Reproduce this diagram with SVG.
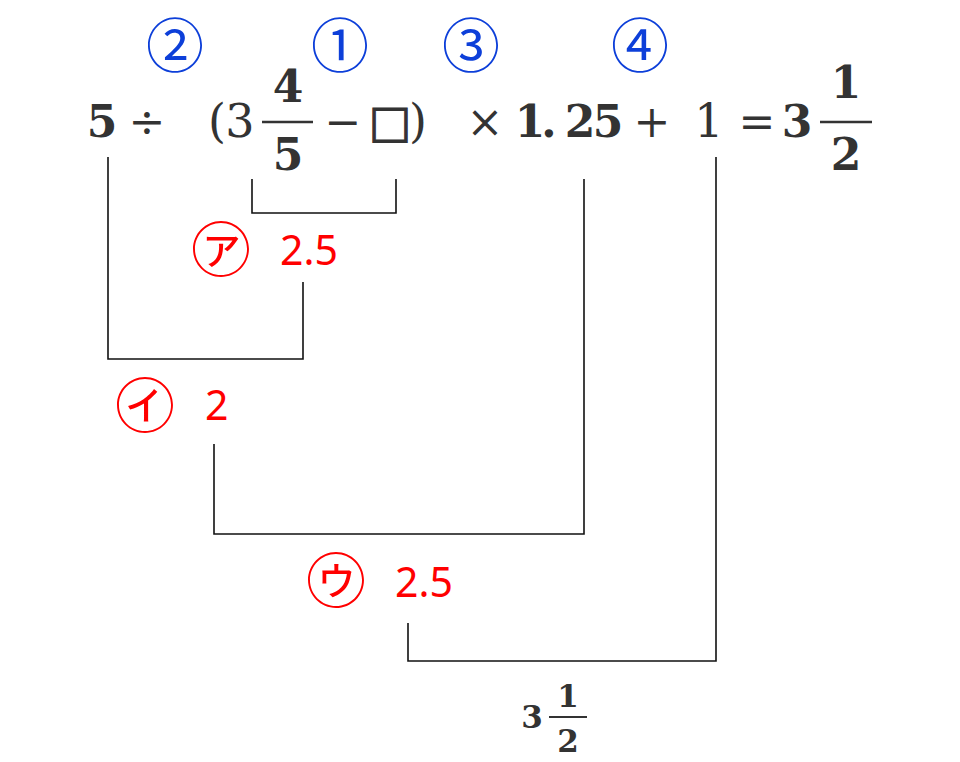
<svg xmlns="http://www.w3.org/2000/svg" width="960" height="762" viewBox="0 0 960 762">
<style>
.m{font-family:"DejaVu Serif","Liberation Serif",serif;font-size:44px;fill:#333;text-anchor:middle}
.b{font-weight:bold}
.s{font-size:31px}
.bar{stroke:#333;stroke-width:2.5}
.cb{font-family:"Noto Sans CJK JP",sans-serif;font-size:58px;fill:#0d3fd9;text-anchor:middle}
.cr{font-family:"Noto Sans CJK JP",sans-serif;font-size:60px;fill:#f00;text-anchor:middle}
.rv{font-family:"Noto Sans","Liberation Sans",sans-serif;font-size:41px;fill:#f00}
.ln{fill:none;stroke:#111;stroke-width:1.6}
</style>
<rect width="960" height="762" fill="#fff"/>
<g id="expression">
<text class="m b" x="102" y="137">5</text>
<text class="m" x="147" y="137">÷</text>
<text class="m" x="217 240" y="137" style="font-size:46px">(3</text>
<text class="m b" x="288" y="102">4</text>
<line class="bar" x1="262" y1="122" x2="313" y2="122"/>
<text class="m b" x="288" y="170">5</text>
<text class="m" x="343" y="137">−</text>
<text class="m" x="390 418" y="137"><tspan style="font-size:45px;stroke:#333;stroke-width:1">□</tspan><tspan style="font-size:46px">)</tspan></text>
<text class="m" x="485" y="137">×</text>
<text class="m b" x="530 549 580 608" y="137">1.25</text>
<text class="m" x="652" y="137">+</text>
<text class="m" x="709" y="137" style="font-size:46px">1</text>
<text class="m" x="757" y="137">=</text>
<text class="m b" x="797" y="137">3</text>
<text class="m b" x="846" y="98">1</text>
<line class="bar" x1="820" y1="122" x2="872" y2="122"/>
<text class="m b" x="846" y="170">2</text>
</g>
<g id="order">
<text class="cb" x="175" y="67">②</text>
<text class="cb" x="340" y="67">①</text>
<text class="cb" x="471" y="67">③</text>
<text class="cb" x="640" y="67">④</text>
</g>
<g id="connectors">
<path class="ln" d="M252,179V213H396V179"/>
<path class="ln" d="M108,157V359H303V282"/>
<path class="ln" d="M584,179V534H214V444"/>
<path class="ln" d="M716,157V661H408V623"/>
</g>
<g id="step-a">
<text class="cr" x="221" y="272">㋐</text>
<text class="rv" x="280" y="265">2.5</text>
</g>
<g id="step-i">
<text class="cr" x="145" y="428">㋑</text>
<text class="rv" x="205" y="420">2</text>
</g>
<g id="step-u">
<text class="cr" x="336" y="603">㋒</text>
<text class="rv" x="395" y="597">2.5</text>
</g>
<g id="result">
<text class="m b s" x="532" y="728">3</text>
<text class="m b s" x="568" y="707">1</text>
<line class="bar" x1="549" y1="717" x2="587" y2="717" style="stroke-width:2"/>
<text class="m b s" x="568" y="752">2</text>
</g>
</svg>
